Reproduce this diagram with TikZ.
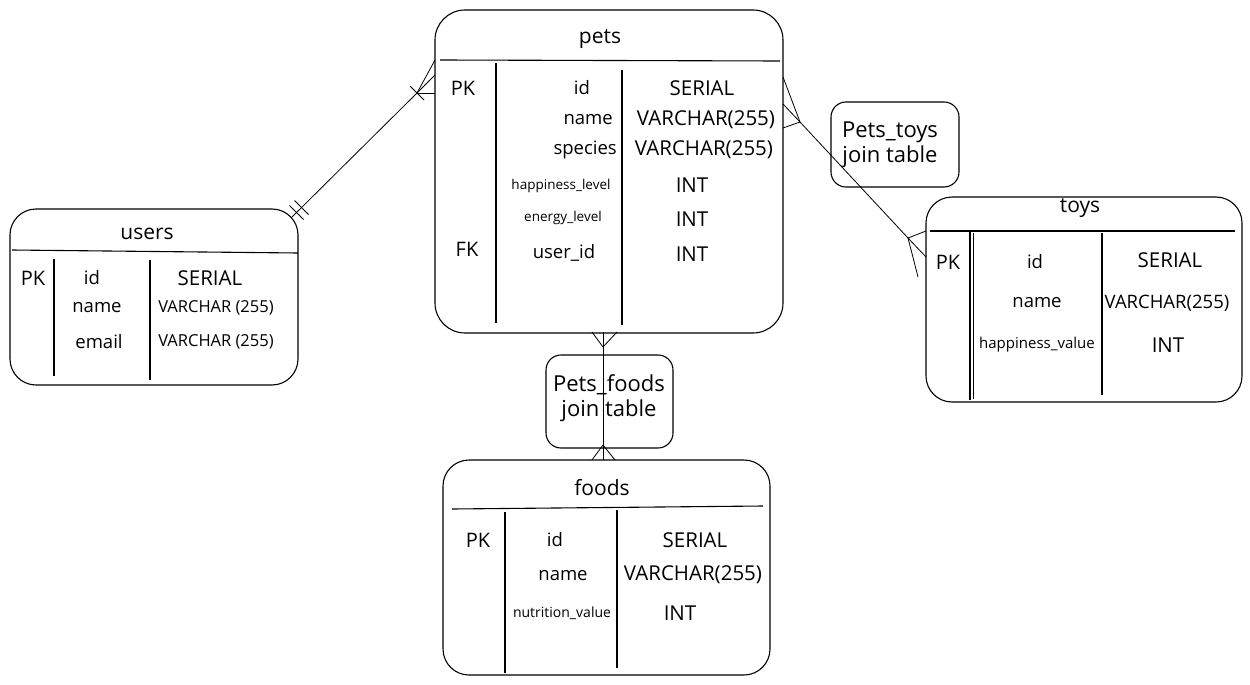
\documentclass[tikz,border=0pt]{standalone}
\usepackage{fontspec}
\setmainfont{Open Sans}
\usetikzlibrary{calc}
\begin{document}
\begin{tikzpicture}[x=1pt,y=-1pt,
  tablebox/.style={draw,line width=1.1pt,rounded corners=26pt,inner sep=0pt},
  joinbox/.style={draw,line width=1.1pt,rounded corners=15pt,inner sep=0pt},
  divider/.style={line width=1.1pt},
  link/.style={line width=0.8pt},
  ttl/.style={font=\fontsize{21}{24}\selectfont,inner sep=0pt},
  keycol/.style={font=\fontsize{20}{22}\selectfont,inner sep=0pt},
  cell/.style={font=\fontsize{18.5}{21}\selectfont,inner sep=0pt},
  typ/.style={font=\fontsize{20.5}{23}\selectfont,inner sep=0pt},
  smalltyp/.style={font=\fontsize{16.5}{19}\selectfont,inner sep=0pt},
  tiny/.style={font=\fontsize{13.5}{15}\selectfont,inner sep=0pt},
  jointxt/.style={font=\fontsize{22}{25}\selectfont,inner sep=0pt,align=center}]
\useasboundingbox (0,0) rectangle (1250,685);

% ---------------- users ----------------
\node[tablebox,minimum width=288pt,minimum height=176pt] (users) at (154,297) {};
\node[ttl] (uT) at (147,234) {users};
\draw[divider] (12,250) -- (298,253);
\draw[divider] (54,259) -- (54,376);
\draw[divider] (150,260) -- (150,380);
\node[keycol] (uPK) at (33,278) {PK};
\node[cell] (uId) at (92,278) {id};
\node[typ] (uIdT) at (210,278) {SERIAL};
\node[cell] (uName) at (97,308) {name};
\node[smalltyp] (uNameT) at (216,308) {VARCHAR (255)};
\node[cell] (uMail) at (99,342) {email};
\node[smalltyp] (uMailT) at (216,342) {VARCHAR (255)};

% ---------------- pets ----------------
\node[tablebox,rounded corners=30pt,minimum width=348pt,minimum height=323pt] (pets) at (609,171.5) {};
\node[ttl] (pT) at (600,39) {pets};
\draw[divider] (440,60) -- (780,61);
\draw[divider] (496,63) -- (496,323);
\draw[divider] (622,70) -- (622,325);
\node[keycol] (pPK) at (463,88) {PK};
\node[cell] (pId) at (582,88) {id};
\node[typ] (pIdT) at (702,88) {SERIAL};
\node[cell,anchor=east] (pName) at (613,120) {name};
\node[typ] (pNameT) at (706,120) {VARCHAR(255)};
\node[cell,anchor=east] (pSp) at (617,150) {species};
\node[typ] (pSpT) at (704,150) {VARCHAR(255)};
\node[tiny] (pHap) at (561,186) {happiness\_level};
\node[typ] (pHapT) at (692,185) {INT};
\node[tiny] (pEn) at (563,218) {energy\_level};
\node[typ] (pEnT) at (692,219) {INT};
\node[keycol] (pFK) at (467,249) {FK};
\node[cell] (pUid) at (564,253) {user\_id};
\node[typ] (pUidT) at (692,254) {INT};

% ---------------- toys ----------------
\node[tablebox,minimum width=316pt,minimum height=205pt] (toys) at (1084,299.5) {};
\node[ttl] (tT) at (1080,208) {toys};
\draw[divider] (930,231) -- (1235,231);
\draw[divider] (970,232) -- (970,400);
\draw[line width=0.6pt] (973.5,233) -- (973.5,399);
\draw[divider] (1102,233) -- (1102,395);
\node[keycol] (tPK) at (948,262) {PK};
\node[cell] (tId) at (1035,262) {id};
\node[typ] (tIdT) at (1170,260) {SERIAL};
\node[cell] (tName) at (1037,303) {name};
\node[font=\fontsize{18.5}{21}\selectfont,inner sep=0pt] (tNameT) at (1167,303) {VARCHAR(255)};
\node[font=\fontsize{15}{17}\selectfont,inner sep=0pt] (tHap) at (1037,345) {happiness\_value};
\node[typ] (tHapT) at (1168,345) {INT};

% ---------------- foods ----------------
\node[tablebox,minimum width=327pt,minimum height=215pt] (foods) at (606.5,567.5) {};
\node[ttl] (fT) at (602,488) {foods};
\draw[divider] (452,509) -- (763,506);
\draw[divider] (505,512) -- (505,673);
\draw[divider] (617,510) -- (617,668);
\node[keycol] (fPK) at (478,540) {PK};
\node[cell] (fId) at (555,540) {id};
\node[typ] (fIdT) at (695,540) {SERIAL};
\node[cell] (fName) at (563,576) {name};
\node[typ] (fNameT) at (693,575) {VARCHAR(255)};
\node[font=\fontsize{14}{16}\selectfont,inner sep=0pt] (fNut) at (562,613) {nutrition\_value};
\node[typ] (fNutT) at (680,613) {INT};

% ---------------- join tables ----------------
\node[joinbox,minimum width=128pt,minimum height=85pt] (ptoys) at (895,144.5) {};
\node[jointxt] (ptoysT) at (890,145) {Pets\_toys\\join table};
\node[joinbox,minimum width=127pt,minimum height=93pt] (pfoods) at (609.5,401.5) {};
\node[jointxt] (pfoodsT) at (609,398) {Pets\_foods\\join table};

% ---------------- users -> pets (one and only one to one or many) ----------------
\coordinate (ua) at (292,217);
\coordinate (ub1) at (296.5,212.5);
\coordinate (ub2) at (301.5,207.5);
\coordinate (pv) at (417,93);
\coordinate (pa1) at (435,60);
\coordinate (pa2) at (435,75);
\coordinate (pa3) at (435,93);
\draw[link] (ua) -- (pv) -- (pa2);
\draw[link] (pv) -- (pa1);
\draw[link] (pv) -- (pa3);
\draw[link] ($(pv)+(-7,-7)$) -- ($(pv)+(7,7)$);
\draw[link] ($(ub1)+(-7,-7)$) -- ($(ub1)+(7,7)$);
\draw[link] ($(ub2)+(-7,-7)$) -- ($(ub2)+(7,7)$);

% ---------------- pets -> toys (many to many) ----------------
\coordinate (pt1) at (783,77);
\coordinate (pt2) at (783,104);
\coordinate (pt3) at (783,128);
\coordinate (pv2) at (800,122);
\coordinate (tv) at (908,238);
\coordinate (tt1) at (926,231);
\coordinate (tt2) at (926,257);
\coordinate (tt3) at (918,277);
\draw[link] (pt2) -- (pv2) -- (tv) -- (tt2);
\draw[link] (pv2) .. controls (792,100) .. (pt1);
\draw[link] (pv2) -- (pt3);
\draw[link] (tv) -- (tt1);
\draw[link] (tv) -- (tt3);

% ---------------- pets -> foods (many to many) ----------------
\coordinate (pf1) at (592,332);
\coordinate (pf2) at (603,332);
\coordinate (pf3) at (617,332);
\coordinate (pfv) at (603,347);
\coordinate (ff1) at (592,460);
\coordinate (ff2) at (603,460);
\coordinate (ff3) at (615,460);
\coordinate (ffv) at (603,445);
\draw[link] (pf2) -- (ff2);
\draw[link] (pfv) -- (pf1);
\draw[link] (pfv) -- (pf3);
\draw[link] (ffv) -- (ff1);
\draw[link] (ffv) -- (ff3);
\end{tikzpicture}
\end{document}
